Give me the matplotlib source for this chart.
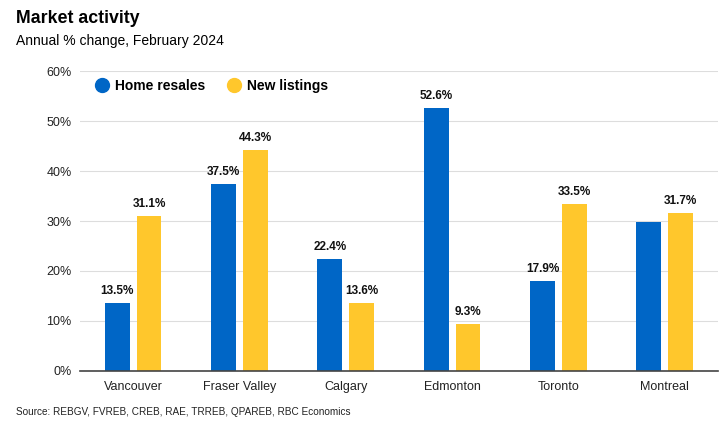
import numpy as np
import matplotlib.pyplot as plt

plt.rcParams['font.family'] = ['Liberation Sans', 'DejaVu Sans']

# data
cities = ["Vancouver", "Fraser Valley", "Calgary", "Edmonton", "Toronto", "Montreal"]
home_resales = [13.5, 37.5, 22.4, 52.6, 17.9, 29.8]
new_listings = [31.1, 44.3, 13.6, 9.3, 33.5, 31.7]
resales_labels = ["13.5%", "37.5%", "22.4%", "52.6%", "17.9%", None]
listings_labels = ["31.1%", "44.3%", "13.6%", "9.3%", "33.5%", "31.7%"]
yticks = [0, 10, 20, 30, 40, 50, 60]

blue = "#0066C6"
yellow = "#FFC72C"

fig = plt.figure(figsize=(7.2, 4.21), dpi=100)
ax = fig.add_axes([0.111, 0.119, 0.886, 0.712])

x = np.arange(len(cities))
w = 0.234
off = 0.15
b1 = ax.bar(x - off, home_resales, w, color=blue, label="Home resales", zorder=3)
b2 = ax.bar(x + off, new_listings, w, color=yellow, label="New listings", zorder=3)

for rect, lab in zip(b1, resales_labels):
    if lab:
        ax.text(rect.get_x() + rect.get_width() / 2, rect.get_height() + 1.2, lab,
                ha="center", va="bottom", fontsize=8.5, fontweight="bold", color="#111111")
for rect, lab in zip(b2, listings_labels):
    if lab:
        ax.text(rect.get_x() + rect.get_width() / 2, rect.get_height() + 1.2, lab,
                ha="center", va="bottom", fontsize=8.5, fontweight="bold", color="#111111")

ax.set_xlim(-0.5, len(cities) - 0.5)
ax.set_ylim(0, 60)
ax.set_yticks(yticks)
ax.set_yticklabels([f"{t}%" for t in yticks])
ax.set_xticks(x)
ax.set_xticklabels(cities)
ax.tick_params(axis="both", length=0, labelsize=9, colors="#222222")
ax.tick_params(axis="y", pad=6)
ax.tick_params(axis="x", pad=7)
ax.grid(axis="y", color="#DDDDDD", linewidth=0.8, zorder=0)
for s in ["left", "right", "top"]:
    ax.spines[s].set_visible(False)
ax.spines["bottom"].set_color("#444444")
ax.spines["bottom"].set_linewidth(1.2)
ax.spines["bottom"].set_zorder(4)

# legend with round markers
h1 = plt.Line2D([], [], marker="o", linestyle="none", markersize=10, color=blue)
h2 = plt.Line2D([], [], marker="o", linestyle="none", markersize=10, color=yellow)
ax.legend([h1, h2], ["Home resales", "New listings"], loc="upper left",
          bbox_to_anchor=(-0.002, 1.016), ncol=2, frameon=False, handletextpad=0.1,
          handlelength=1.6, columnspacing=1.3, prop={"weight": "bold", "size": 10})

fig.text(0.022, 0.955, "Market activity", fontsize=12.8, fontweight="bold", va="center")
fig.text(0.022, 0.902, "Annual % change, February 2024", fontsize=10, va="center")
fig.text(0.022, 0.022, "Source: REBGV, FVREB, CREB, RAE, TRREB, QPAREB, RBC Economics",
         fontsize=7.2, va="center", color="#222222")

fig.savefig("out.png", dpi=100)
